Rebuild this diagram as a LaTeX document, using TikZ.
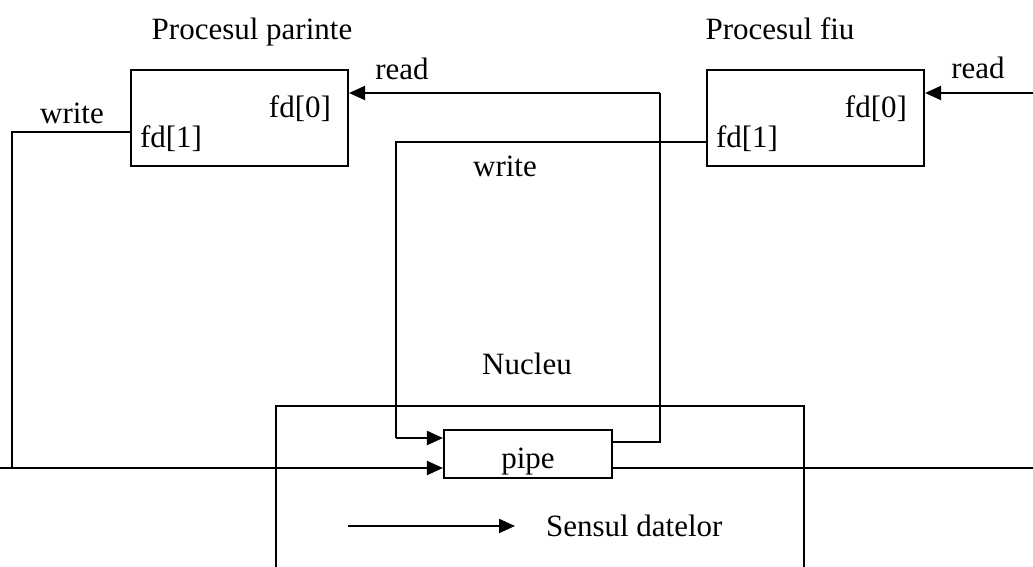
\documentclass[tikz,border=0pt]{standalone}
\usepackage{fontspec}
\setmainfont{Liberation Serif}
\usetikzlibrary{arrows.meta}
\begin{document}
\begin{tikzpicture}[x=1pt,y=-1pt,
  line width=2.1pt,
  txt/.style={font=\fontsize{31}{36}\selectfont, inner sep=0pt, anchor=base},
  procbox/.style={draw, line width=2.1pt, minimum width=217pt, minimum height=96pt, inner sep=0pt},
  pipebox/.style={draw, line width=2.1pt, minimum width=168pt, minimum height=48pt, inner sep=0pt},
  conn/.style={line width=2.1pt},
  arr/.style={line width=2.1pt, -{Triangle[length=16pt,width=14pt]}}]
\useasboundingbox (0,0) rectangle (1033,567);
\begin{scope}
\clip (0,0) rectangle (1033,567);
% boxes
\node[procbox] (parent) at (239.5,118) {};
\node[procbox] (child) at (815.5,118) {};
\node[pipebox] (pipe) at (528,454) {};
% kernel (open at bottom)
\draw[conn] (276,590) -- (276,406) -- (804,406) -- (804,590);
% texts
\node[txt] (tparent) at (252,40) {Procesul parinte};
\node[txt] (tchild) at (780,40) {Procesul fiu};
\node[txt] (w1) at (72,124) {write};
\node[txt] (r1) at (402,80) {read};
\node[txt] (w2) at (505,176) {write};
\node[txt] (r2) at (978,79) {read};
\node[txt, anchor=base east] (pfd0) at (332,118) {fd[0]};
\node[txt, anchor=base west] (pfd1) at (139,147) {fd[1]};
\node[txt, anchor=base east] (cfd0) at (908,118) {fd[0]};
\node[txt, anchor=base west] (cfd1) at (715,147) {fd[1]};
\node[txt] (nucleu) at (527,374) {Nucleu};
\node[txt] (pipetxt) at (528,468) {pipe};
\node[txt, anchor=base west] (sens) at (545,536) {Sensul datelor};
% helper coordinates
\coordinate (yA) at (0,93);
\coordinate (yB) at (0,132);
\coordinate (yC) at (0,142);
\coordinate (yD) at (0,438);
\coordinate (yE) at (0,442);
\coordinate (yF) at (0,468);
\coordinate (leftedge) at (0,468);
\coordinate (rightedge) at (1033,468);
\coordinate (rightread) at (1033,93);
\coordinate (legA) at (348,526);
\coordinate (legB) at (515,526);
% connectors
\draw[conn] (parent.west |- yB) -| (12,468);
\draw[arr] (leftedge) -- (pipe.west |- yF);
\draw[conn] (child.west |- yC) -| (396,438);
\draw[arr] (396,438) -- (pipe.west |- yD);
\draw[conn] (pipe.east |- yE) -| (660,93);
\draw[arr] (660,93) -- (parent.east |- yA);
\draw[conn] (pipe.east |- yF) -- (rightedge);
\draw[arr] (rightread) -- (child.east |- yA);
\draw[arr] (legA) -- (legB);
\end{scope}
\end{tikzpicture}
\end{document}
